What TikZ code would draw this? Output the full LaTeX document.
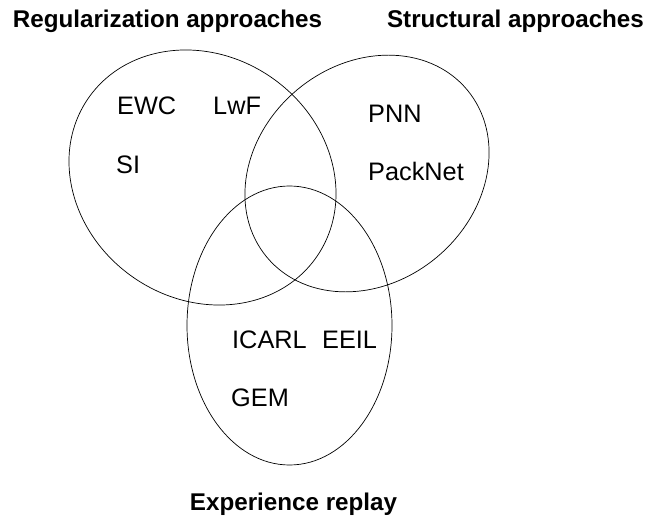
\documentclass[tikz,border=0pt]{standalone}
\usepackage{fontspec}
\setmainfont{Liberation Sans}
\usetikzlibrary{shapes.geometric}
\begin{document}
\begin{tikzpicture}[x=1pt,y=-1pt,
  setbox/.style={draw, ellipse, inner sep=0pt, line width=0.7pt},
  title/.style={inner sep=0pt, anchor=base, font=\fontsize{24.2}{29}\selectfont\bfseries},
  item/.style={inner sep=0pt, anchor=base west, font=\fontsize{25.3}{30}\selectfont}]
\useasboundingbox (0,0) rectangle (646,519);
\node[setbox, minimum width=278pt, minimum height=243pt, rotate=-35] (reg) at (202.5,177.5) {};
\node[setbox, minimum width=261pt, minimum height=218pt, rotate=40] (str) at (367,173.5) {};
\node[setbox, minimum width=205pt, minimum height=279pt] (rep) at (289.5,325.5) {};
\node[title] (treg) at (167.5,28) {Regularization approaches};
\node[title] (tstr) at (515.5,28) {Structural approaches};
\node[title] (trep) at (293.5,510) {Experience replay};
\node[item] (ewc) at (117,114) {EWC};
\node[item] (lwf) at (213,114) {LwF};
\node[item] (si) at (116,173) {SI};
\node[item] (pnn) at (368,122) {PNN};
\node[item] (packnet) at (368,180) {PackNet};
\node[item] (icarl) at (232,348) {ICARL};
\node[item] (eeil) at (322,348) {EEIL};
\node[item] (gem) at (231,406) {GEM};
\end{tikzpicture}
\end{document}
